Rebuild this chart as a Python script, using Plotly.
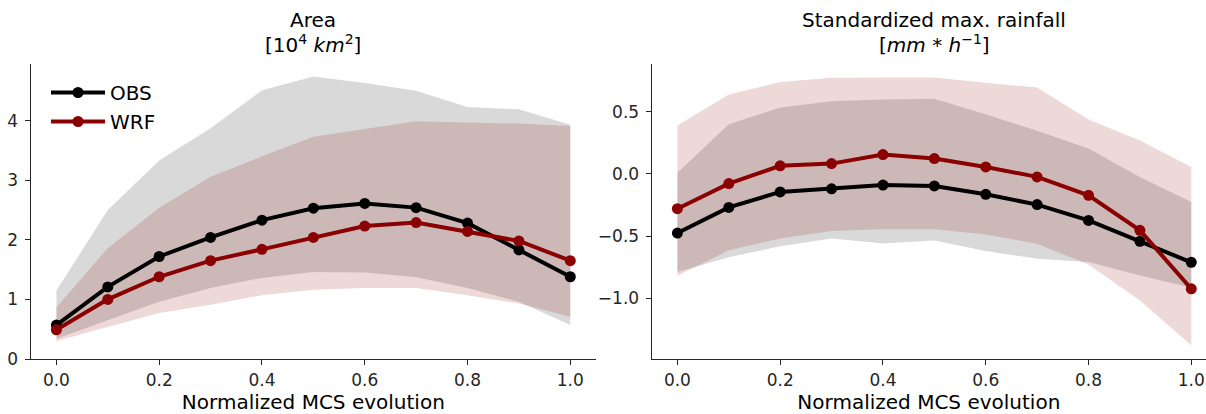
import plotly.graph_objects as go

# ---------------- data ----------------
x = [0.0, 0.1, 0.2, 0.3, 0.4, 0.5, 0.6, 0.7, 0.8, 0.9, 1.0]

obs_area = [0.57, 1.21, 1.72, 2.04, 2.33, 2.53, 2.61, 2.54, 2.28, 1.83, 1.38]
wrf_area = [0.49, 1.00, 1.38, 1.65, 1.84, 2.04, 2.23, 2.29, 2.14, 1.98, 1.65]
obs_area_hi = [1.15, 2.50, 3.33, 3.87, 4.51, 4.74, 4.63, 4.50, 4.23, 4.19, 3.93]
obs_area_lo = [0.34, 0.65, 0.96, 1.19, 1.36, 1.46, 1.45, 1.37, 1.19, 0.96, 0.57]
wrf_area_hi = [0.87, 1.86, 2.54, 3.06, 3.40, 3.73, 3.86, 3.99, 3.97, 3.95, 3.91]
wrf_area_lo = [0.30, 0.54, 0.77, 0.91, 1.07, 1.16, 1.19, 1.19, 1.07, 0.93, 0.71]

obs_rain = [-0.476, -0.27, -0.145, -0.12, -0.09, -0.097, -0.164, -0.247, -0.374, -0.543, -0.712]
wrf_rain = [-0.28, -0.078, 0.065, 0.083, 0.156, 0.124, 0.056, -0.024, -0.172, -0.454, -0.925]
obs_rain_hi = [0.01, 0.40, 0.535, 0.586, 0.60, 0.605, 0.48, 0.347, 0.204, -0.024, -0.226]
obs_rain_lo = [-0.79, -0.67, -0.583, -0.52, -0.56, -0.535, -0.621, -0.683, -0.71, -0.817, -0.917]
wrf_rain_hi = [0.39, 0.64, 0.74, 0.774, 0.777, 0.777, 0.734, 0.696, 0.438, 0.27, 0.056]
wrf_rain_lo = [-0.82, -0.615, -0.52, -0.46, -0.446, -0.446, -0.487, -0.562, -0.73, -1.02, -1.38]

series_names = ["OBS", "WRF"]
x_ticks = [0.0, 0.2, 0.4, 0.6, 0.8, 1.0]
area_ticks = [0, 1, 2, 3, 4]
rain_ticks = [-1.0, -0.5, 0.0, 0.5]
x_label = "Normalized MCS evolution"
title_lines = [
    ["Area", "[10<sup>4</sup> <i>km</i><sup>2</sup>]"],
    ["Standardized max. rainfall", "[<i>mm</i> * <i>h</i><sup>−1</sup>]"],
]

# ---------------- style ----------------
W, H = 1206, 414
FONT = "DejaVu Sans"
INK = "#262626"
colors = {"OBS": "#000000", "WRF": "#8b0000"}
fills = {"OBS": "rgba(0,0,0,0.15)", "WRF": "rgba(139,0,0,0.15)"}

fig = go.Figure()


def add_panel(xa, ya, mean_obs, lo_obs, hi_obs, mean_wrf, lo_wrf, hi_wrf, showlegend):
    for name, lo, hi in (("OBS", lo_obs, hi_obs), ("WRF", lo_wrf, hi_wrf)):
        fig.add_trace(go.Scatter(x=x, y=lo, mode="lines", line=dict(width=0),
                                 showlegend=False, hoverinfo="skip", xaxis=xa, yaxis=ya))
        fig.add_trace(go.Scatter(x=x, y=hi, mode="lines", line=dict(width=0),
                                 fill="tonexty", fillcolor=fills[name],
                                 showlegend=False, hoverinfo="skip", xaxis=xa, yaxis=ya))
    for name, m in (("OBS", mean_obs), ("WRF", mean_wrf)):
        fig.add_trace(go.Scatter(x=x, y=m, mode="lines+markers", name=name,
                                 line=dict(color=colors[name], width=4),
                                 marker=dict(color=colors[name], size=11),
                                 showlegend=showlegend, xaxis=xa, yaxis=ya))


add_panel("x", "y", obs_area, obs_area_lo, obs_area_hi, wrf_area, wrf_area_lo, wrf_area_hi, True)
add_panel("x2", "y2", obs_rain, obs_rain_lo, obs_rain_hi, wrf_rain, wrf_rain_lo, wrf_rain_hi, False)

TOP, BOT = 64, 359
y_dom = [(H - BOT) / H, (H - TOP) / H]
common_axis = dict(showline=True, linecolor=INK, linewidth=1.3, ticks="outside",
                   ticklen=5, tickwidth=1.3, tickcolor=INK, showgrid=False, zeroline=False,
                   automargin=False,
                   tickfont=dict(family=FONT, size=17, color=INK))
xtitle = dict(text=x_label, font=dict(size=20, family=FONT, color="#000"), standoff=17)

fig.update_layout(
    template="none",
    width=W, height=H, margin=dict(l=0, r=0, t=0, b=0, autoexpand=False),
    paper_bgcolor="white", plot_bgcolor="white",
    font=dict(family=FONT, color=INK),
    xaxis=dict(domain=[30.7 / W, 596 / W], range=[-0.05, 1.05], tickvals=x_ticks,
               tickformat=".1f", anchor="y", title=xtitle, **common_axis),
    yaxis=dict(domain=y_dom, range=[0, 4.95], tickvals=area_ticks, anchor="x",
               ticklabelstandoff=3, **common_axis),
    xaxis2=dict(domain=[651.7 / W, 1.0], range=[-0.05, 1.0286], tickvals=x_ticks,
                tickformat=".1f", anchor="y2", title=xtitle, **common_axis),
    yaxis2=dict(domain=y_dom, range=[-1.49, 0.885], tickvals=rain_ticks, tickformat=".1f",
                anchor="x2", ticklabelstandoff=3, **common_axis),
    legend=dict(x=46 / W, y=(H - 73) / H, xanchor="left", yanchor="top",
                bgcolor="rgba(0,0,0,0)", borderwidth=0,
                font=dict(family=FONT, size=20, color="#000"),
                itemwidth=54, tracegroupgap=0, traceorder="normal"),
    showlegend=True,
)

centers = [(30.7 + 596) / 2 / W, (651.7 + 1217) / 2 / W]
line_y = [20, 44]
for lines, xc in zip(title_lines, centers):
    for text, yc in zip(lines, line_y):
        fig.add_annotation(text=text, x=xc, y=(H - yc) / H, xref="paper", yref="paper",
                           xanchor="center", yanchor="middle", showarrow=False,
                           font=dict(family=FONT, size=20, color="#000"))

fig.write_html("out.html")
